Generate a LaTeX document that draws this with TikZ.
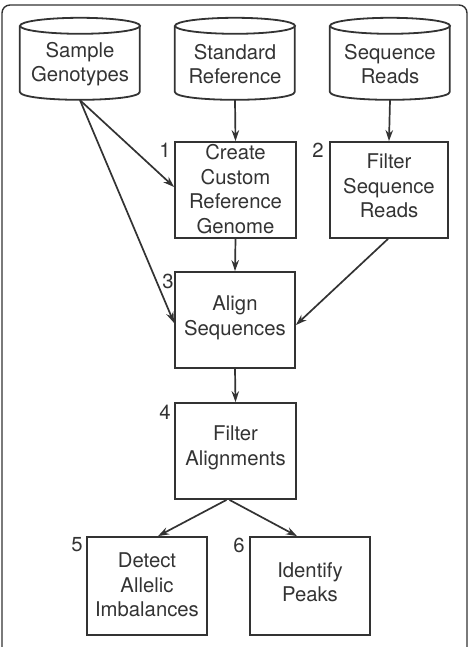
\documentclass[tikz,border=0pt]{standalone}
\usepackage{fontspec}
\setmainfont{TeX Gyre Heros}
\usetikzlibrary{arrows.meta}
\definecolor{ink}{HTML}{333333}
\tikzset{
  txt/.style={text=ink, align=center, font=\fontsize{20.3}{24.5}\selectfont, inner sep=0pt},
  procbox/.style={draw=ink, line width=1.8pt, minimum width=121pt, minimum height=96pt, inner sep=0pt},
  cylbox/.style={minimum width=120pt, minimum height=82pt, inner sep=0pt},
  cylline/.style={draw=ink, line width=1.8pt},
  num/.style={text=ink, font=\fontsize{20.3}{24}\selectfont, inner sep=0pt},
  flow/.style={draw=ink, line width=1.7pt, -{Stealth[length=11pt,width=7.5pt]}},
}
\newcommand{\mycyl}[1]{%
  \draw[cylline] (#1.north west) ++(0,8) coordinate (#1tl)
    (#1.north) ++(0,8) ellipse [x radius=60pt, y radius=8pt];
  \draw[cylline] (#1tl) -- ++(0,66) .. controls ++(0,10.7) and ++(0,10.7) .. ++(120,0) -- ++(0,-66);
}
\begin{document}
\begin{tikzpicture}[x=1pt,y=-1pt]
\useasboundingbox (0,0) rectangle (469,647);
\clip (0,0) rectangle (469,647);
\draw[ink, line width=1.4pt, rounded corners=8pt] (2,5) rectangle (467,690);

% cylinders
\node[cylbox] (sg) at (80,59) {};
\node[cylbox] (sr) at (235,59) {};
\node[cylbox] (rd) at (390,59) {};
\mycyl{sg}
\mycyl{sr}
\mycyl{rd}
\node[txt] (sgt) at (80,64) {Sample\\Genotypes};
\node[txt] (srt) at (235,64) {Standard\\Reference};
\node[txt] (rdt) at (390,64) {Sequence\\Reads};

% process boxes
\node[procbox] (cc) at (235.5,190) {};
\node[txt] (cct) at (235.5,189) {Create\\Custom\\Reference\\Genome};
\node[procbox, minimum width=118pt] (fr) at (389,190) {};
\node[txt] (frt) at (389,186) {Filter\\Sequence\\Reads};
\node[procbox, minimum width=120pt] (al) at (235,320) {};
\node[txt] (alt) at (235,318) {Align\\Sequences};
\node[procbox] (fa) at (235.5,451) {};
\node[txt] (fat) at (235.5,448) {Filter\\Alignments};
\node[procbox, minimum width=120pt, minimum height=98pt] (da) at (147,586) {};
\node[txt] (dat) at (147,585) {Detect\\Allelic\\Imbalances};
\node[procbox, minimum width=120pt, minimum height=98pt] (ip) at (310,586) {};
\node[txt] (ipt) at (310,582) {Identify\\Peaks};

% step numbers
\node[num] (n1) at (165,150) {1};
\node[num] (n2) at (318,150) {2};
\node[num] (n3) at (168,281) {3};
\node[num] (n4) at (165,412) {4};
\node[num] (n5) at (77,545) {5};
\node[num] (n6) at (239,545) {6};

% connectors
\draw[flow] (sr.south) -- (cc.north);
\draw[flow] (rd.south) -- (fr.north);
\draw[flow] (sg.south) -- ([yshift=3pt]cc.west);
\draw[flow] (sg.south) -- ([yshift=-3pt]al.west);
\draw[flow] ([xshift=-1pt]fr.south) -- ([yshift=-5pt]al.east);
\draw[flow] (cc.south) -- (al.north);
\draw[flow] (al.south) -- (fa.north);
\draw[flow] ([xshift=-9pt]fa.south) -- ([xshift=11pt]da.north);
\draw[flow] ([xshift=-6pt]fa.south) -- ([xshift=-13pt]ip.north);
\end{tikzpicture}
\end{document}
